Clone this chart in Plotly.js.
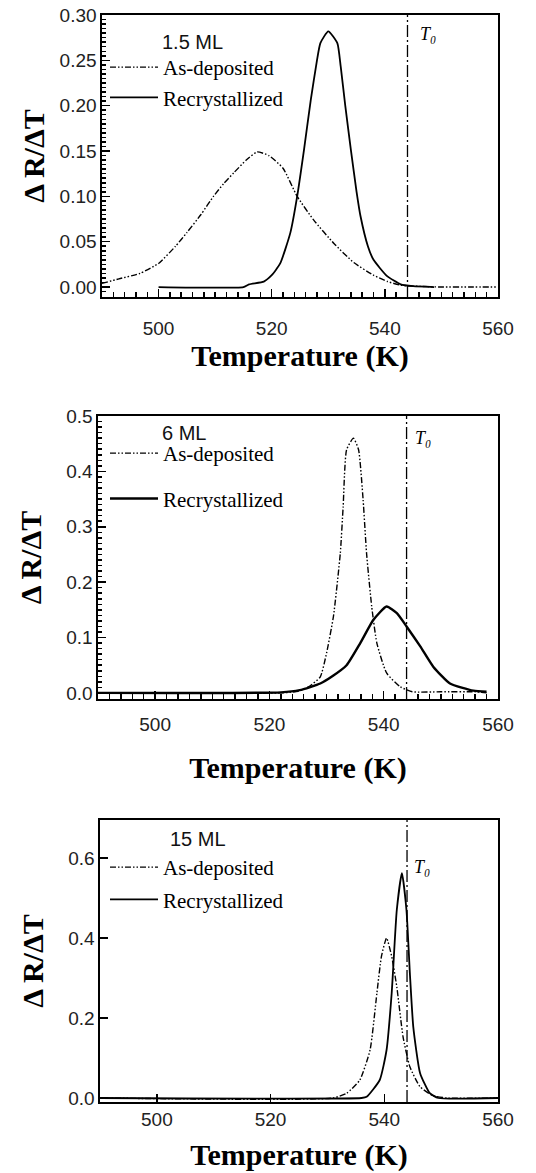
<!DOCTYPE html>
<html>
<head>
<meta charset="utf-8">
<script src="https://cdn.plot.ly/plotly-3.0.1.min.js"></script>
<style>html,body{margin:0;padding:0;background:#fff;}#chart{width:536px;height:1173px;}</style>
</head>
<body>
<div id="chart"></div>
<script>
// ---- data ----
const T0 = 544;
const panelLabels = ["1.5 ML", "6 ML", "15 ML"];
const seriesNames = ["As-deposited", "Recrystallized"];
const t0Label = "T\u2080";

// 1.5 ML
const x15A = [490, 493, 496.7, 500, 503, 505, 507.5, 509.7, 511.5, 513.3, 515.5, 517.4, 519.5, 522, 524.5, 527.4, 531, 534.5, 538, 540.5, 542.8, 545, 550, 555, 560];
const y15A = [0.004, 0.009, 0.015, 0.026, 0.045, 0.060, 0.080, 0.100, 0.114, 0.126, 0.140, 0.149, 0.145, 0.131, 0.100, 0.074, 0.048, 0.027, 0.013, 0.006, 0.002, 0.001, 0.0, 0.0, 0.0];
const x15R = [500, 515, 516, 518.6, 520, 521.5, 523.3, 524.5, 525.7, 526.9, 528, 528.6, 530, 531.6, 532.2, 533, 534, 535, 535.7, 537, 538, 540.4, 542.8, 545, 548.7];
const y15R = [0, 0, 0.003, 0.006, 0.013, 0.026, 0.06, 0.1, 0.151, 0.206, 0.25, 0.269, 0.282, 0.269, 0.243, 0.2, 0.151, 0.105, 0.078, 0.045, 0.03, 0.012, 0.003, 0.001, 0.0];

// 6 ML
const x6A = [490, 522, 525, 527, 528.9, 530, 531.2, 532.4, 532.9, 533.5, 534.7, 535.6, 536.4, 537, 537.9, 538.8, 540.5, 542.9, 545, 550, 556, 558];
const y6A = [0, 0, 0.003, 0.012, 0.029, 0.072, 0.138, 0.252, 0.336, 0.439, 0.46, 0.439, 0.348, 0.252, 0.156, 0.09, 0.036, 0.011, 0.002, 0.002, 0.002, 0.0];
const x6R = [490, 522, 525.3, 528.9, 531, 533.5, 535.9, 538.2, 540.5, 542.3, 544, 546.4, 548.7, 551.6, 555.7, 558];
const y6R = [0, 0.001, 0.005, 0.017, 0.03, 0.05, 0.09, 0.132, 0.156, 0.144, 0.12, 0.084, 0.047, 0.017, 0.004, 0.002];

// 15 ML
const x150A = [490, 531, 533.4, 535.7, 537.5, 538.7, 539.5, 540.4, 541.3, 542.2, 543.3, 544.5, 546.3, 548.5, 551, 560];
const y150A = [0, 0, 0.012, 0.045, 0.12, 0.262, 0.354, 0.4, 0.354, 0.278, 0.153, 0.078, 0.028, 0.006, 0, 0];
const x150R = [490, 536, 536.9, 539.2, 540.4, 541.3, 542.2, 543.1, 543.9, 544.5, 545.1, 546.3, 548, 549.5, 560];
const y150R = [0, 0, 0.003, 0.045, 0.12, 0.262, 0.47, 0.562, 0.47, 0.312, 0.178, 0.062, 0.012, 0, 0];

// ---- styles ----
const W = 536, H = 1173;
const dashDotDot = "6px,2px,1.5px,2px,1.5px,2px";
const serif = "Liberation Serif, Times New Roman, serif";
const sans = "Liberation Sans, Arial, sans-serif";

function trA(x, y, xa, ya, lg, w) {
  return {x: x, y: y, xaxis: xa, yaxis: ya, type: "scatter", mode: "lines",
    name: seriesNames[0], legend: lg, legendgroup: lg + "a",
    line: {color: "#000", width: w, dash: dashDotDot, shape: "spline", smoothing: 0.5}};
}
function trR(x, y, xa, ya, lg, w) {
  return {x: x, y: y, xaxis: xa, yaxis: ya, type: "scatter", mode: "lines",
    name: seriesNames[1], legend: lg, legendgroup: lg + "r",
    line: {color: "#000", width: w, shape: "spline", smoothing: 0.5}};
}

const data = [
  trA(x15A, y15A, "x", "y", "legend", 1.4),
  trR(x15R, y15R, "x", "y", "legend", 1.8),
  trA(x6A, y6A, "x2", "y2", "legend2", 1.4),
  trR(x6R, y6R, "x2", "y2", "legend2", 2.4),
  trA(x150A, y150A, "x3", "y3", "legend3", 1.4),
  trR(x150R, y150R, "x3", "y3", "legend3", 1.8)
];

function px(v) { return v / W; }
function py(v) { return (H - v) / H; }

function xAxis(l, anchor, minor, standoff, lblStandoff) {
  const ax = {
    domain: [px(l), px(498)], anchor: anchor, range: [490, 560],
    dtick: 20, tick0: 500,
    ticks: "inside", ticklen: 8, tickwidth: 1.5, tickcolor: "#000",
    showline: true, linecolor: "#000", linewidth: 1.6, mirror: true,
    showgrid: false, zeroline: false,
    tickfont: {family: sans, size: 19, color: "#222"},
    title: {text: "Temperature (K)", standoff: standoff, font: {family: serif, size: 30, color: "#000", weight: "bold"}}
  };
  if (lblStandoff) ax.ticklabelstandoff = lblStandoff;
  if (minor) ax.minor = {dtick: 2, tick0: 500, ticks: "inside", ticklen: 5, tickwidth: 1.5, tickcolor: "#000"};
  return ax;
}
function yAxis(b, t, anchor, range, dtick, fmt, minorDtick, standoff) {
  const ax = {
    domain: [py(b), py(t)], anchor: anchor, range: range,
    dtick: dtick, tick0: 0, tickformat: fmt,
    ticks: "inside", ticklen: 8, tickwidth: 1.5, tickcolor: "#000",
    showline: true, linecolor: "#000", linewidth: 1.6, mirror: true,
    showgrid: false, zeroline: false,
    tickfont: {family: sans, size: 19, color: "#222"},
    title: {text: "\u0394 R/\u0394T", standoff: standoff, font: {family: serif, size: 30, color: "#000", weight: "bold"}}
  };
  if (minorDtick) ax.minor = {dtick: minorDtick, tick0: 0, ticks: "inside", ticklen: 4, tickwidth: 1.5, tickcolor: "#000"};
  return ax;
}

function legendAt(xPx, yPx, gap) {
  return {x: px(xPx), y: py(yPx), xanchor: "left", yanchor: "top",
    bgcolor: "rgba(0,0,0,0)", borderwidth: 0, traceorder: "grouped", tracegroupgap: gap,
    font: {family: serif, size: 21, color: "#000"}, itemwidth: 48};
}

function t0Shape(xa, ya) {
  return {type: "line", xref: xa, yref: ya + " domain", x0: T0, x1: T0, y0: 0, y1: 1,
    line: {color: "#000", width: 1.3, dash: "12px,3px,2px,3px"}};
}

function label(text, xPx, yPx, font) {
  return {text: text, xref: "paper", yref: "paper", x: px(xPx), y: py(yPx),
    xanchor: "center", yanchor: "middle", showarrow: false, font: font};
}

const panelFont = {family: sans, size: 20, color: "#111"};
const t0Font = {family: serif, size: 18, color: "#000", style: "italic"};

const layout = {
  width: W, height: H,
  margin: {l: 0, r: 0, t: 0, b: 0},
  paper_bgcolor: "#fff", plot_bgcolor: "#fff",
  showlegend: true,
  xaxis: xAxis(102, "y", true, 6, 14),
  yaxis: yAxis(297, 15, "x", [-0.011, 0.30], 0.05, ".2f", 0.005, 6),
  xaxis2: xAxis(98, "y2", true, 22, 8),
  yaxis2: yAxis(699, 416, "x2", [-0.011, 0.5], 0.1, ".1f", 0.01, 15),
  xaxis3: xAxis(100, "y3", false, 14, 0),
  yaxis3: yAxis(1102, 820, "x3", [-0.01, 0.695], 0.2, ".1f", null, 15),
  legend: legendAt(105, 47, 0),
  legend2: legendAt(105, 433, 15),
  legend3: legendAt(105, 847, 2),
  shapes: [t0Shape("x", "y"), t0Shape("x2", "y2"), t0Shape("x3", "y3")],
  annotations: [
    label(panelLabels[0], 192, 42, panelFont),
    label(panelLabels[1], 184, 433, panelFont),
    label(panelLabels[2], 198, 839, panelFont),
    label(t0Label, 428, 34, t0Font),
    label(t0Label, 423, 438, t0Font),
    label(t0Label, 422, 867, t0Font)
  ]
};

Plotly.newPlot("chart", data, layout, {displayModeBar: false, staticPlot: true});
</script>
</body>
</html>
